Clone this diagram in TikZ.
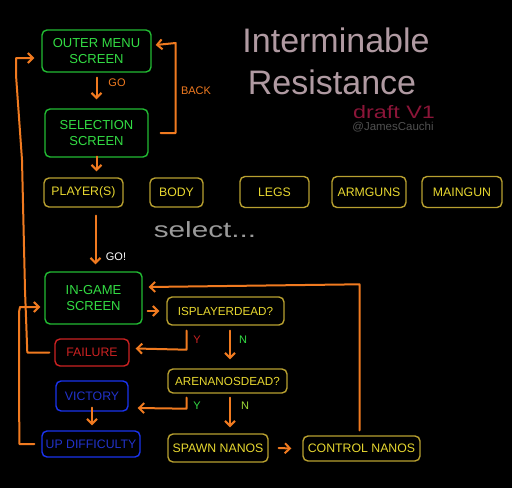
\documentclass[tikz,border=0pt]{standalone}
\usepackage{fontspec}
\setmainfont{Liberation Sans}
\usetikzlibrary{arrows.meta}
\definecolor{bg}{HTML}{000000}
\definecolor{grT}{HTML}{33DD44}
\definecolor{grB}{HTML}{22BB33}
\definecolor{yeT}{HTML}{E8D830}
\definecolor{yeB}{HTML}{B8A030}
\definecolor{reT}{HTML}{CC2222}
\definecolor{blT}{HTML}{2233CC}
\definecolor{blB}{HTML}{1A33EE}
\definecolor{orA}{HTML}{F07A20}
\definecolor{titleC}{HTML}{B09AA2}
\definecolor{draftC}{HTML}{8B1538}
\definecolor{selC}{HTML}{9A9A9A}
\definecolor{authC}{HTML}{505050}
\tikzset{
  box/.style={draw, rounded corners=5pt, line width=1.4pt, inner sep=0pt, align=center, font=\fontsize{12.3}{14}\selectfont},
  greenbox/.style={box, draw=grB, text=grT, font=\fontsize{13}{15.5}\selectfont},
  yellowbox/.style={box, draw=yeB, text=yeT},
  redbox/.style={box, draw=reT, text=reT},
  bluebox/.style={box, draw=blB, text=blT},
  arr/.style={draw=orA, line width=2pt, line cap=round, line join=round, -{Straight Barb[length=5pt,width=10pt,line width=2pt]}},
  lbl/.style={font=\fontsize{11}{13}\selectfont, inner sep=0pt},
  hand/.style={inner sep=0pt}
}
\begin{document}
\begin{tikzpicture}[x=1pt,y=-1pt]
\fill[bg] (0,0) rectangle (512,488);
\useasboundingbox (0,0) rectangle (512,488);

% nodes
\node[greenbox, minimum width=109pt, minimum height=42pt] (outer) at (96.5,51) {OUTER MENU\\SCREEN};
\node[greenbox, minimum width=103pt, minimum height=48pt] (selection) at (96.5,133) {SELECTION\\SCREEN};
\node[yellowbox, minimum width=79pt, minimum height=29pt] (player) at (83.5,192.5) {PLAYER(S)};
\node[yellowbox, minimum width=53pt, minimum height=29pt] (body) at (176.5,192.5) {BODY};
\node[yellowbox, minimum width=69pt, minimum height=31pt] (legs) at (274.5,192) {LEGS};
\node[yellowbox, minimum width=74pt, minimum height=31pt] (armguns) at (369,192) {ARMGUNS};
\node[yellowbox, minimum width=80pt, minimum height=31pt] (maingun) at (462,192) {MAINGUN};
\node[greenbox, minimum width=97pt, minimum height=52pt] (ingame) at (93.5,298) {IN-GAME\\SCREEN};
\node[yellowbox, minimum width=117pt, minimum height=28pt, font=\fontsize{11.7}{13}\selectfont] (isplayer) at (225.5,311) {ISPLAYERDEAD?};
\node[redbox, minimum width=74pt, minimum height=27pt] (failure) at (92,352.5) {FAILURE};
\node[yellowbox, minimum width=119pt, minimum height=24pt, font=\fontsize{11.7}{13}\selectfont] (arena) at (227.5,381) {ARENANOSDEAD?};
\node[bluebox, minimum width=72pt, minimum height=30pt] (victory) at (92,396) {VICTORY};
\node[bluebox, minimum width=98pt, minimum height=26pt] (updiff) at (91,444) {UP DIFFICULTY};
\node[yellowbox, minimum width=100pt, minimum height=28pt] (spawn) at (218,448) {SPAWN NANOS};
\node[yellowbox, minimum width=117pt, minimum height=25pt] (control) at (361.5,448.5) {CONTROL NANOS};

% texts
\node[hand, text=titleC, font=\fontsize{34}{36}\selectfont] (title1) at (336,40) {Interminable};
\node[hand, text=titleC, font=\fontsize{34}{36}\selectfont] (title2) at (332,82) {Resistance};
\node[hand, text=draftC, font=\fontsize{18}{20}\selectfont, xscale=1.3] (draft) at (394,112) {draft V1};
\node[hand, text=authC, font=\fontsize{11.5}{13}\selectfont] (auth) at (393,127) {@JamesCauchi};
\node[hand, text=selC, font=\fontsize{22}{24}\selectfont, xscale=1.35] (select) at (205,230) {select...};

\node[lbl, text=orA] (golbl) at (117,83) {GO};
\node[lbl, text=orA] (backlbl) at (196,91) {BACK};
\node[lbl, text=white] (go2lbl) at (116,257) {GO!};
\node[lbl, text=reT] (y1) at (197,340) {Y};
\node[lbl, text=grT] (n1) at (243,340) {N};
\node[lbl, text=grT] (y2) at (197,406) {Y};
\node[lbl, text=yeT!60!grT] (n2) at (245,406) {N};

% connectors
\draw[arr] ([shift={(0,5)}]outer.south) -- ([shift={(0,-9)}]selection.north);
\draw[arr] ([xshift=12]selection.east) -- ++(15,0) -- ++(0,-90) -- ([shift={(4,-6)}]outer.east);
\draw[arr] ([yshift=1]selection.south) -- ([shift={(13,-6)}]player.north);
\draw[arr] ([shift={(12,8)}]player.south) -- ([shift={(2,-7)}]ingame.north);
\draw[arr] ([xshift=-5]failure.west) -- ++(-22,0) -- (25,290) -- (22,160) -- (16,75) -- (16,58) -- ([shift={(-7,7)}]outer.west);
\draw[arr] ([xshift=-7]updiff.west) -- ++(-15,0) -- (19,312) -- (20,307) -- ([shift={(-4,9)}]ingame.west);
\draw[arr] ([shift={(-2,-5)}]control.north) -- ++(0,-146) -- ([shift={(6,-11)}]ingame.east);
\draw[arr] ([shift={(5,13)}]ingame.east) -- ([xshift=-7]isplayer.west);
\draw[arr] ([shift={(-39,5)}]isplayer.south) -- ++(0,19) -- ([shift={(6,-4)}]failure.east);
\draw[arr] ([shift={(4.5,5)}]isplayer.south) -- ([shift={(2.5,-9)}]arena.north);
\draw[arr] ([shift={(-41,4)}]arena.south) -- ++(0,11) -- ([shift={(9,12)}]victory.east);
\draw[arr] ([shift={(2.5,4)}]arena.south) -- ([shift={(12,-6)}]spawn.north);
\draw[arr] ([yshift=4]victory.south) -- ([shift={(1,-5)}]updiff.north);
\draw[arr] ([xshift=10]spawn.east) -- ([xshift=-11]control.west);
\end{tikzpicture}
\end{document}
